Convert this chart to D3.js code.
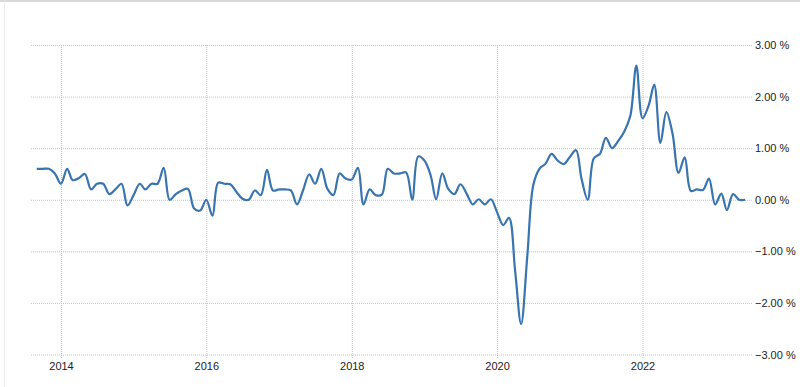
<!DOCTYPE html>
<html>
<head>
<meta charset="utf-8">
<script src="https://cdn.jsdelivr.net/npm/d3@7"></script>
<style>
  body { margin: 0; background: #fff; }
  text { font-family: "Liberation Sans", Arial, sans-serif; }
</style>
</head>
<body>
<svg id="chart"></svg>
<script>
// monthly values, Sep 2013 .. Jun 2023 (percent)
const startMonth = "2013-09";
const values = [
  0.60, 0.60, 0.60, 0.51,
  0.31, 0.60, 0.38, 0.42, 0.50, 0.20, 0.31, 0.31, 0.11, 0.20, 0.31, -0.11,
  0.09, 0.31, 0.20, 0.31, 0.31, 0.62, 0.00, 0.11, 0.18, 0.21, -0.17, -0.21,
  0.00, -0.31, 0.33, 0.31, 0.30, 0.15, 0.02, 0.00, 0.18, 0.09, 0.58, 0.18,
  0.20, 0.20, 0.18, -0.09, 0.18, 0.49, 0.31, 0.60, 0.21, 0.09, 0.51, 0.41,
  0.39, 0.62, -0.09, 0.20, 0.09, 0.10, 0.60, 0.51, 0.51, 0.53, 0.00, 0.84,
  0.76, 0.48, 0.01, 0.51, 0.21, 0.11, 0.30, 0.12, -0.09, 0.01, -0.09, 0.01,
  -0.24, -0.49, -0.35, -1.38, -2.41, -1.10, 0.28, 0.60, 0.70, 0.89, 0.76, 0.69,
  0.83, 0.96, 0.40, 0.00, 0.80, 0.89, 1.20, 1.00, 1.14, 1.32, 1.63, 2.60,
  1.58, 1.83, 2.23, 1.10, 1.70, 1.28, 0.52, 0.82, 0.17, 0.20, 0.19, 0.41,
  -0.09, 0.12, -0.20, 0.11, 0.00, 0.00
];
const yearTicks = [2014, 2016, 2018, 2020, 2022];
const yTicks = [-3, -2, -1, 0, 1, 2, 3];

const width = 800;
const height = 387;

const parseMonth = d3.timeParse("%Y-%m");
const start = parseMonth(startMonth);
const data = values.map((v, i) => ({ date: d3.timeMonth.offset(start, i), value: v }));

const x = d3.scaleTime()
    .domain([new Date(2014, 0, 1), new Date(2022, 0, 1)])
    .range([61, 642.5]);

const y = d3.scaleLinear()
    .domain([-3, 3])
    .range([354.5, 45]);

const svg = d3.select("#chart")
    .attr("width", width)
    .attr("height", height);

// frame
svg.append("line")
    .attr("x1", 0).attr("x2", width).attr("y1", 1).attr("y2", 1)
    .attr("stroke", "#d9d9d9").attr("stroke-width", 2);
svg.append("line")
    .attr("x1", 4.5).attr("x2", 4.5).attr("y1", 1).attr("y2", height)
    .attr("stroke", "#ececec");

// y grid + labels
const gridLeft = 30, gridRight = 752;
const yAxis = svg.append("g")
    .attr("transform", `translate(${gridRight},0)`)
    .call(d3.axisRight(y)
      .tickValues(yTicks)
      .tickSize(-(gridRight - gridLeft))
      .tickPadding(3)
      .tickFormat(d => d3.format(".2f")(d) + " %"));
yAxis.select(".domain").remove();
yAxis.selectAll("line")
    .attr("stroke", "#c4c4c4")
    .attr("stroke-dasharray", "1,1");
yAxis.selectAll("text")
    .attr("fill", "#222")
    .style("font-size", "11px");

// x grid + labels
const xAxis = svg.append("g")
    .attr("transform", `translate(0,358)`)
    .call(d3.axisBottom(x)
      .tickValues(yearTicks.map(yr => new Date(yr, 0, 1)))
      .tickSize(-(358 - 45))
      .tickPadding(4)
      .tickFormat(d3.timeFormat("%Y")));
xAxis.select(".domain").remove();
xAxis.selectAll("line")
    .attr("stroke", "#c4c4c4")
    .attr("stroke-dasharray", "1,1");
xAxis.selectAll("text")
    .attr("fill", "#222")
    .style("font-size", "11px");

// series
const line = d3.line()
    .x(d => x(d.date))
    .y(d => y(d.value))
    .curve(d3.curveCatmullRom.alpha(0.5));

svg.append("path")
    .datum(data)
    .attr("fill", "none")
    .attr("stroke", "#3874b0")
    .attr("stroke-width", 2.2)
    .attr("stroke-linejoin", "round")
    .attr("d", line);
</script>
</body>
</html>
